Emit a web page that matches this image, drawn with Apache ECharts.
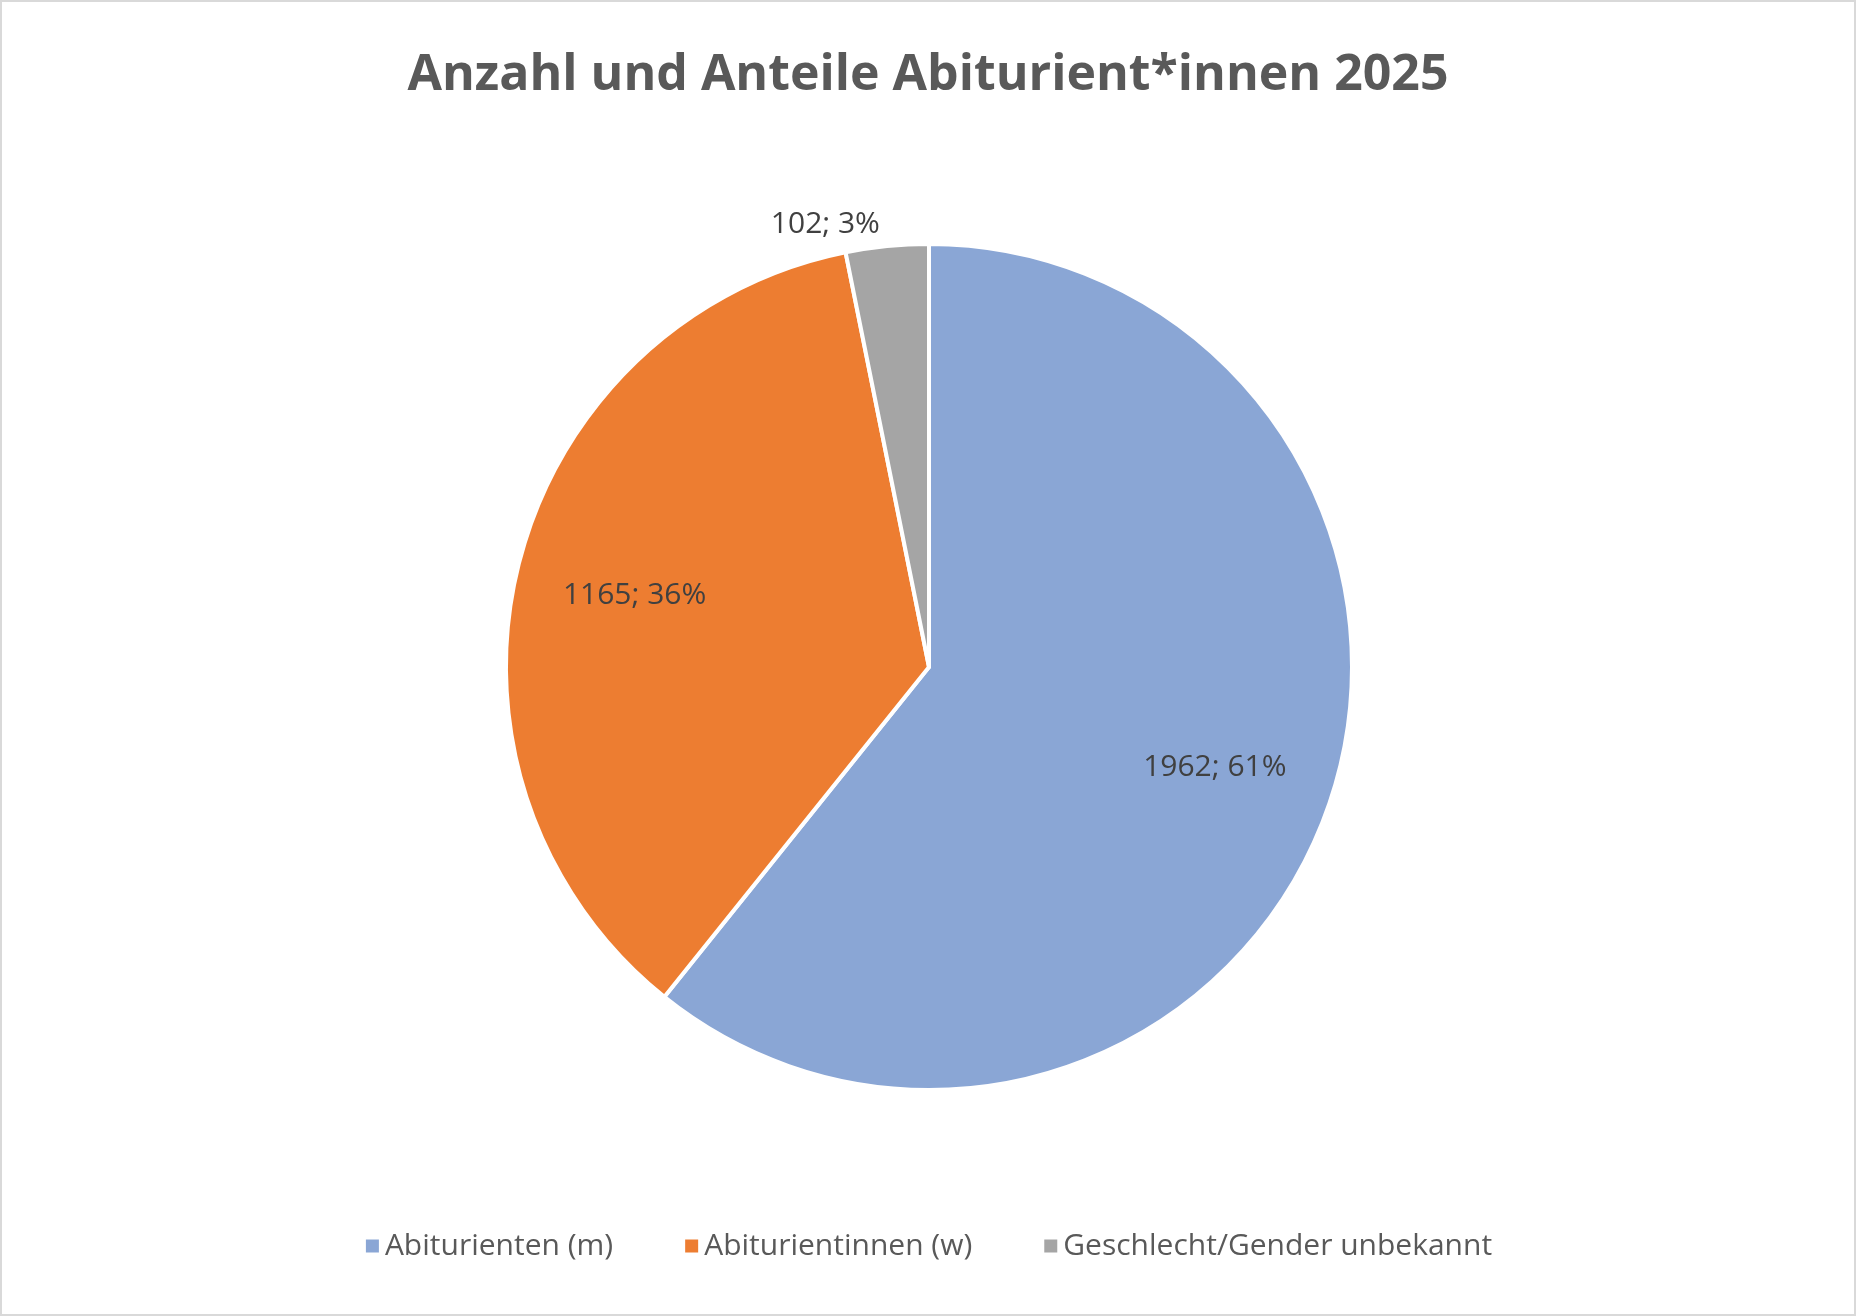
<!DOCTYPE html>
<html lang="de">
<head>
<meta charset="UTF-8">
<title>Abiturient*innen 2025</title>
<style>
	html,body{margin:0;padding:0;background:#fff;overflow:hidden;}
	#chart{width:1852px;height:1312px;border:2px solid #d9d9d9;box-sizing:content-box;}
</style>
</head>
<body>
<div id="chart"></div>
<script src="https://cdn.jsdelivr.net/npm/echarts@6/dist/echarts.min.js"></script>
<script>
var categories = ['Abiturienten (m)', 'Abiturientinnen (w)', 'Geschlecht/Gender unbekannt'];
var values = [1962, 1165, 102];
var shares = ['61%', '36%', '3%'];
var colors = ['#8AA6D5', '#ED7D31', '#A5A5A5'];

var font = '"Open Sans", sans-serif';

var mainData = categories.map(function(c, i){
	var item = {name: c, value: values[i], itemStyle: {color: colors[i]}};
	if (i === 2) {
		item.label = {show: true, position: 'outside', formatter: values[i] + '; ' + shares[i],
			fontSize: 30, color: '#404040', fontFamily: font, alignTo: 'none'};
		item.labelLine = {show: false, length: 22, length2: 0};
	}
	return item;
});
var labelData = categories.map(function(c, i){
	return {name: c, value: values[i], label: {show: i < 2, formatter: values[i] + '; ' + shares[i]}};
});

var chart = echarts.init(document.getElementById('chart'));
chart.setOption({
	animation: false,
	title: {
		text: 'Anzahl und Anteile Abiturient*innen 2025',
		left: 'center', top: 44,
		textStyle: {fontSize: 50, fontWeight: 'bold', color: '#595959', fontFamily: font}
	},
	legend: {
		data: categories, bottom: 48, left: 'center',
		icon: 'rect', itemWidth: 15, itemHeight: 15, itemGap: 70,
		textStyle: {fontSize: 30, color: '#595959', fontFamily: font}
	},
	series: [{
		type: 'pie',
		center: [927, 665], radius: [0, 423],
		startAngle: 90, clockwise: true,
		itemStyle: {borderColor: '#fff', borderWidth: 4},
		label: {show: false},
		labelLine: {show: false},
		data: mainData
	}, {
		type: 'pie', silent: true,
		center: [927, 665], radius: [0, 600],
		startAngle: 90, clockwise: true,
		itemStyle: {color: 'rgba(0,0,0,0)'},
		legendHoverLink: false,
		label: {position: 'inside', fontSize: 30, color: '#404040', fontFamily: font},
		data: labelData
	}]
});
</script>
</body>
</html>
